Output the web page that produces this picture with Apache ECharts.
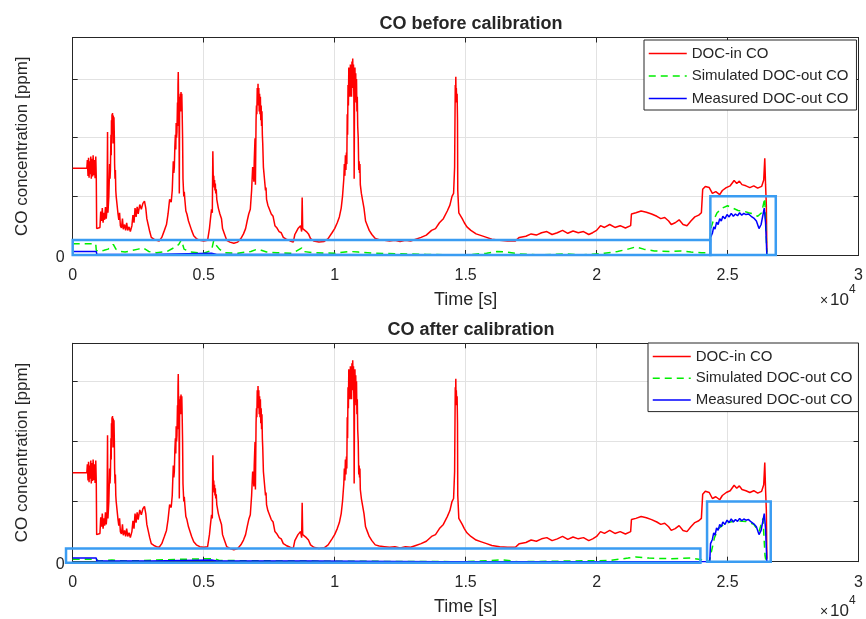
<!DOCTYPE html>
<html>
<head>
<meta charset="utf-8">
<script src="https://cdn.jsdelivr.net/npm/echarts@6/dist/echarts.min.js"></script>
<style>
  html, body { margin: 0; padding: 0; background: #fff; }
  #chart { width: 866px; height: 619px; }
</style>
</head>
<body>
<div id="chart"></div>
<script>
// Time axis (s) and tick labels, shown in units of 1e4 s
const timeTicks = [0, 5000, 10000, 15000, 20000, 25000, 30000];
const timeTickLabels = ['0', '0.5', '1', '1.5', '2', '2.5', '3'];

// DOC-in CO, [time s, concentration] (same in both panels)
const docInCO = [
  [0,1.48],[540,1.48],[560,1.62],[585,1.35],[605,1.66],[625,1.32],[645,1.60],[665,1.38],[690,1.68],[710,1.30],
  [735,1.64],[760,1.34],[780,1.70],[805,1.36],[830,1.62],[855,1.31],[880,1.68],[900,1.33],[915,0.45],[960,0.43],
  [1040,0.47],[1070,0.74],[1100,0.58],[1130,0.80],[1160,0.55],[1190,0.72],[1220,0.60],[1250,0.82],[1280,0.62],[1310,0.78],
  [1330,2.10],[1345,0.72],[1380,1.00],[1400,1.35],[1410,1.55],[1425,1.30],[1440,1.45],[1460,2.05],[1470,1.70],[1480,2.30],
  [1490,2.10],[1500,2.40],[1510,2.15],[1520,2.42],[1530,2.20],[1540,1.90],[1550,2.38],[1560,2.20],[1575,2.35],[1590,2.00],
  [1600,1.55],[1615,1.30],[1630,1.45],[1645,1.10],[1660,1.00],[1700,0.98],[1730,0.70],[1760,0.60],[1790,0.72],[1820,0.50],
  [1860,0.46],[1900,0.62],[1930,0.44],[1980,0.52],[2020,0.42],[2060,0.55],[2100,0.42],[2150,0.48],[2200,0.40],[2260,0.50],
  [2300,0.68],[2340,0.55],[2380,0.80],[2420,0.65],[2460,0.82],[2500,0.70],[2560,0.86],[2620,0.78],[2680,0.88],[2740,0.92],
  [2790,0.80],[2830,0.62],[2880,0.52],[2940,0.40],[3000,0.30],[3100,0.27],[3200,0.25],[3300,0.24],[3400,0.30],[3500,0.42],
  [3580,0.52],[3640,0.70],[3700,0.95],[3760,0.90],[3800,1.10],[3840,1.60],[3860,1.40],[3880,1.50],[3900,1.85],[3920,2.05],
  [3935,1.80],[3950,2.25],[3965,2.00],[3980,2.10],[4000,2.60],[4010,2.20],[4020,2.90],[4030,3.12],[4040,2.70],[4050,2.55],
  [4060,2.20],[4070,1.05],[4080,2.40],[4090,2.70],[4100,2.50],[4110,2.75],[4120,2.45],[4135,2.78],[4150,2.55],[4165,2.75],
  [4180,2.40],[4195,2.00],[4210,1.30],[4225,1.15],[4240,1.00],[4260,1.08],[4280,0.95],[4320,0.75],[4360,0.70],[4420,0.58],
  [4480,0.55],[4540,0.42],[4620,0.33],[4720,0.28],[4850,0.25],[5000,0.24],[5150,0.25],[5220,0.45],[5260,0.62],[5300,0.78],
  [5330,0.72],[5350,1.77],[5370,1.20],[5385,1.35],[5400,1.15],[5415,1.28],[5430,1.10],[5445,1.22],[5460,1.05],[5480,1.12],
  [5500,0.95],[5560,0.80],[5620,0.70],[5680,0.62],[5720,0.45],[5800,0.35],[5880,0.25],[6000,0.22],[6150,0.20],[6300,0.22],
  [6420,0.28],[6520,0.36],[6600,0.45],[6660,0.58],[6720,0.70],[6780,0.78],[6830,1.10],[6850,1.30],[6870,1.50],[6885,1.30],
  [6900,1.40],[6915,1.25],[6930,1.60],[6960,1.99],[6975,1.20],[7000,2.30],[7015,2.55],[7030,2.40],[7045,2.85],[7060,2.60],
  [7075,2.92],[7090,2.55],[7105,2.85],[7120,2.45],[7135,2.75],[7150,2.40],[7165,2.70],[7180,2.30],[7195,2.55],[7210,2.20],
  [7225,2.45],[7240,2.05],[7255,1.90],[7280,1.50],[7300,1.40],[7320,1.30],[7340,1.20],[7360,1.10],[7380,1.15],[7400,0.95],
  [7450,0.85],[7520,0.82],[7580,0.70],[7650,0.66],[7720,0.50],[7800,0.46],[7880,0.40],[7960,0.38],[8040,0.30],[8150,0.27],
  [8300,0.24],[8420,0.22],[8480,0.35],[8540,0.40],[8600,0.45],[8660,0.42],[8700,0.50],[8740,0.40],[8760,0.98],[8780,0.45],
  [8850,0.45],[8920,0.40],[9000,0.36],[9080,0.28],[9200,0.24],[9400,0.22],[9600,0.23],[9750,0.28],[9900,0.38],[10000,0.45],
  [10100,0.55],[10180,0.65],[10250,0.80],[10300,1.00],[10350,1.30],[10370,1.55],[10390,1.35],[10410,1.70],[10430,1.45],[10450,1.75],
  [10465,1.55],[10480,2.40],[10495,2.05],[10510,2.90],[10525,2.55],[10540,3.20],[10555,2.75],[10570,3.15],[10585,2.70],[10600,3.25],
  [10615,2.80],[10630,3.10],[10645,2.70],[10660,3.30],[10675,2.90],[10690,3.35],[10705,2.85],[10720,3.25],[10735,2.60],[10745,1.30],
  [10760,2.80],[10775,3.20],[10790,2.65],[10805,3.10],[10820,2.60],[10835,3.00],[10850,2.45],[10865,2.70],[10880,2.20],[10900,2.00],
  [10920,1.45],[10935,1.60],[10950,1.40],[10965,1.55],[10980,1.20],[11020,1.05],[11060,0.95],[11120,0.80],[11180,0.58],[11250,0.50],
  [11320,0.42],[11420,0.35],[11550,0.28],[11700,0.26],[11900,0.25],[12100,0.24],[12300,0.25],[12500,0.23],[12700,0.25],[12900,0.24],
  [13100,0.27],[13300,0.30],[13500,0.34],[13700,0.42],[13850,0.45],[14000,0.55],[14150,0.62],[14300,0.75],[14400,0.85],[14480,1.00],
  [14540,1.05],[14580,1.50],[14595,2.40],[14605,2.90],[14615,2.60],[14625,3.04],[14635,2.70],[14645,2.85],[14660,2.60],[14675,2.75],
  [14690,2.30],[14700,1.10],[14740,0.72],[14800,0.70],[14870,0.62],[14950,0.55],[15050,0.48],[15200,0.42],[15400,0.36],[15600,0.33],
  [15800,0.30],[16000,0.27],[16300,0.25],[16600,0.24],[16900,0.24],[17050,0.30],[17300,0.32],[17500,0.36],[17700,0.34],[17900,0.38],
  [18100,0.40],[18300,0.35],[18500,0.38],[18700,0.42],[18900,0.37],[19100,0.41],[19300,0.38],[19500,0.40],[19700,0.35],[19850,0.38],
  [20000,0.42],[20150,0.50],[20300,0.47],[20500,0.52],[20700,0.47],[20900,0.50],[21100,0.46],[21300,0.50],[21330,0.70],[21500,0.72],
  [21700,0.75],[21900,0.73],[22100,0.70],[22300,0.66],[22450,0.62],[22600,0.64],[22750,0.58],[22850,0.52],[23000,0.55],[23150,0.60],
  [23300,0.52],[23450,0.50],[23600,0.58],[23750,0.65],[23900,0.68],[24000,0.72],[24050,1.12],[24150,1.17],[24300,1.15],[24420,1.05],
  [24550,1.08],[24700,1.03],[24800,1.10],[24950,1.15],[25100,1.18],[25250,1.27],[25350,1.22],[25450,1.26],[25550,1.20],[25700,1.18],
  [25850,1.15],[26000,1.18],[26150,1.14],[26300,1.17],[26380,1.28],[26420,1.65],[26450,1.20],[26480,0.85],[26500,0.05]
];

// Simulated DOC-out CO before calibration
const simOutBefore = [
  [0,0.19],[880,0.19],[900,0.08],[1000,0.06],[1200,0.08],[1350,0.10],[1450,0.14],[1550,0.18],[1650,0.10],[1800,0.06],
  [2000,0.05],[2300,0.08],[2500,0.10],[2700,0.12],[2900,0.06],[3200,0.04],[3600,0.06],[3850,0.12],[4050,0.18],[4150,0.26],
  [4250,0.10],[4500,0.05],[5000,0.03],[5300,0.08],[5380,0.24],[5450,0.18],[5600,0.10],[5800,0.04],[6300,0.03],[6800,0.06],
  [7050,0.10],[7200,0.08],[7400,0.05],[7800,0.04],[8400,0.03],[8750,0.12],[8800,0.06],[9200,0.04],[10000,0.03],[10600,0.06],
  [10900,0.05],[11500,0.03],[12500,0.02],[13500,0.01],[15000,0.00],[15800,0.03],[16200,0.06],[16600,0.05],[17000,0.02],[17800,0.00],
  [18800,0.02],[19400,0.00],[20300,0.03],[20800,0.06],[21200,0.10],[21500,0.14],[21800,0.10],[22200,0.07],[22800,0.06],[23200,0.07],
  [23600,0.05],[24000,0.04],[24320,0.04],[24360,0.45],[24450,0.58],[24600,0.72],[24800,0.80],[25000,0.84],[25200,0.80],[25400,0.76],
  [25600,0.75],[25800,0.72],[26000,0.70],[26150,0.66],[26300,0.72],[26420,0.97],[26470,0.40],[26500,0.00]
];

// Simulated DOC-out CO after calibration
const simOutAfter = [
  [0,0.04],[900,0.04],[1000,0.01],[1500,0.03],[2000,0.01],[4100,0.04],[5400,0.05],[5600,0.02],[9000,0.01],[15000,0.00],
  [16400,0.03],[17000,0.00],[20500,0.02],[21200,0.06],[21500,0.08],[22000,0.06],[22800,0.05],[23600,0.06],[24200,0.02],[24300,0.00],
  [24400,0.20],[24500,0.40],[24650,0.55],[24850,0.62],[25100,0.66],[25400,0.68],[25700,0.67],[26000,0.62],[26200,0.50],[26350,0.72],
  [26430,0.10],[26470,0.00]
];

// Measured DOC-out CO (same in both panels)
const measOutCO = [
  [0,0.06],[900,0.06],[920,0.01],[3000,0.01],[5300,0.03],[5500,0.01],[9000,0.01],[14000,0.00],[24320,0.00],[24350,0.30],
  [24420,0.37],[24470,0.48],[24520,0.44],[24580,0.56],[24640,0.52],[24700,0.62],[24760,0.58],[24820,0.66],[24900,0.62],[24980,0.69],
  [25060,0.65],[25140,0.71],[25220,0.66],[25300,0.70],[25380,0.67],[25460,0.72],[25540,0.68],[25620,0.71],[25700,0.69],[25800,0.70],
  [25900,0.66],[26000,0.63],[26100,0.58],[26200,0.45],[26280,0.52],[26400,0.80],[26450,0.55],[26500,0.00]
];

// Highlighted regions [t0, c0, t1, c1]
const boxesBefore = [[0, 0, 24343, 0.256], [24343, 0, 26840, 1.0]];
const boxesAfter = [[-255, -0.017, 23963, 0.22], [24217, 0, 26647, 1.0]];

const panelTitles = ['CO before calibration', 'CO after calibration'];
const seriesNames = ['DOC-in CO', 'Simulated DOC-out CO', 'Measured DOC-out CO'];
const yTop = [3.71, 3.63];

const FONT = '"Liberation Sans", Arial, Helvetica, sans-serif';
const INK = '#262626';
const GRIDC = '#e2e2e2';
const BOXC = '#3a9cf2';

const chart = echarts.init(document.getElementById('chart'));

const grids = [
  { left: 72.7, top: 37.5, width: 788, height: 217.5 },
  { left: 72.7, top: 343.3, width: 788, height: 218.4 }
];

const xAxes = [], yAxes = [];
[0, 1].forEach(function (g) {
  xAxes.push({
    type: 'value', gridIndex: g, position: 'bottom', min: 0, max: 30000, interval: 5000,
    axisLine: { show: true, onZero: false, lineStyle: { color: INK, width: 1 } },
    axisTick: { show: true, inside: true, length: 5, lineStyle: { color: INK } },
    axisLabel: {
      color: INK, fontFamily: FONT, fontSize: 16, margin: 13,
      formatter: function (v) { const i = timeTicks.indexOf(v); return i >= 0 ? timeTickLabels[i] : ''; }
    },
    splitLine: { show: true, lineStyle: { color: GRIDC, width: 1 } },
    name: 'Time [s]', nameLocation: 'middle', nameGap: 36,
    nameTextStyle: { color: INK, fontFamily: FONT, fontSize: 18 }
  });
  xAxes.push({
    type: 'value', gridIndex: g, position: 'top', min: 0, max: 30000, interval: 5000,
    axisLine: { show: true, onZero: false, lineStyle: { color: INK, width: 1 } },
    axisTick: { show: true, inside: true, length: 5, lineStyle: { color: INK } },
    axisLabel: { show: false }, splitLine: { show: false }
  });
  yAxes.push({
    type: 'value', gridIndex: g, position: 'left', min: 0, max: yTop[g], interval: 1,
    axisLine: { show: true, onZero: false, lineStyle: { color: INK, width: 1 } },
    axisTick: { show: true, inside: true, length: 5, lineStyle: { color: INK } },
    axisLabel: {
      color: INK, fontFamily: FONT, fontSize: 16, margin: 8,
      verticalAlign: 'top', lineHeight: 6,
      formatter: function (v) { return v === 0 ? '0' : ''; }
    },
    splitLine: { show: true, lineStyle: { color: GRIDC, width: 1 } },
    name: 'CO concentration [ppm]', nameLocation: 'middle', nameGap: 42,
    nameTextStyle: { color: INK, fontFamily: FONT, fontSize: 17 }
  });
  yAxes.push({
    type: 'value', gridIndex: g, position: 'right', min: 0, max: yTop[g], interval: 1,
    axisLine: { show: true, onZero: false, lineStyle: { color: INK, width: 1 } },
    axisTick: { show: true, inside: true, length: 5, lineStyle: { color: INK } },
    axisLabel: { show: false }, splitLine: { show: false }
  });
});

function lineSeries(name, data, g, color, dashed) {
  return {
    type: 'line', name: name, data: data, xAxisIndex: 2 * g, yAxisIndex: 2 * g,
    symbol: 'none', showSymbol: false, animation: false,
    lineStyle: { color: color, width: 1.5, type: dashed ? [7, 5] : 'solid' },
    itemStyle: { color: color }
  };
}

function boxSeries(data, g) {
  return {
    type: 'custom', xAxisIndex: 2 * g, yAxisIndex: 2 * g, clip: false, animation: false,
    silent: true, z: 10,
    dimensions: ['t0', 'c0', 't1', 'c1'],
    encode: { x: [0, 2], y: [1, 3] },
    data: data,
    renderItem: function (params, api) {
      const p0 = api.coord([api.value(0), api.value(1)]);
      const p1 = api.coord([api.value(2), api.value(3)]);
      return {
        type: 'rect',
        shape: { x: p0[0], y: p1[1], width: p1[0] - p0[0], height: p0[1] - p1[1] },
        style: { fill: null, stroke: BOXC, lineWidth: 2.5 }
      };
    }
  };
}

// Legend keys show only the line sample (symbol hidden)
const legendBase = {
  orient: 'vertical', itemWidth: 38, itemHeight: 14, itemGap: 7.5, itemTextGap: 4,
  backgroundColor: '#fff', borderColor: INK, borderWidth: 1,
  textStyle: { color: INK, fontFamily: FONT, fontSize: 15 },
  itemStyle: { opacity: 0 },
  lineStyle: { width: 1.5 },
  data: seriesNames.slice(),
  selectedMode: false
};

function exponentText(top) {
  return [
    { type: 'text', left: 820, top: top + 2, style: { text: '×', fill: INK, font: '14px ' + FONT } },
    { type: 'text', left: 830, top: top, style: { text: '10', fill: INK, font: '17px ' + FONT } },
    { type: 'text', left: 849, top: top - 8, style: { text: '4', fill: INK, font: '12px ' + FONT } }
  ];
}

chart.setOption({
  backgroundColor: '#fff',
  animation: false,
  title: [
    { text: panelTitles[0], left: 466, top: 10, textAlign: 'center',
      textStyle: { color: INK, fontFamily: FONT, fontSize: 18, fontWeight: 'bold' } },
    { text: panelTitles[1], left: 466, top: 316, textAlign: 'center',
      textStyle: { color: INK, fontFamily: FONT, fontSize: 18, fontWeight: 'bold' } }
  ],
  legend: [
    Object.assign({}, legendBase, { left: 644, top: 40, padding: [6, 8, 4, 4] }),
    Object.assign({}, legendBase, { left: 648, top: 343, padding: [6, 6, 4, 4], itemGap: 6.8 })
  ],
  grid: grids,
  xAxis: xAxes,
  yAxis: yAxes,
  graphic: exponentText(292).concat(exponentText(603)),
  series: [
    lineSeries(seriesNames[0], docInCO, 0, '#ff0000', false),
    lineSeries(seriesNames[1], simOutBefore, 0, '#00ee00', true),
    lineSeries(seriesNames[2], measOutCO, 0, '#0000ff', false),
    boxSeries(boxesBefore, 0),
    lineSeries(seriesNames[0], docInCO, 1, '#ff0000', false),
    lineSeries(seriesNames[1], simOutAfter, 1, '#00ee00', true),
    lineSeries(seriesNames[2], measOutCO, 1, '#0000ff', false),
    boxSeries(boxesAfter, 1)
  ]
});
</script>
</body>
</html>
